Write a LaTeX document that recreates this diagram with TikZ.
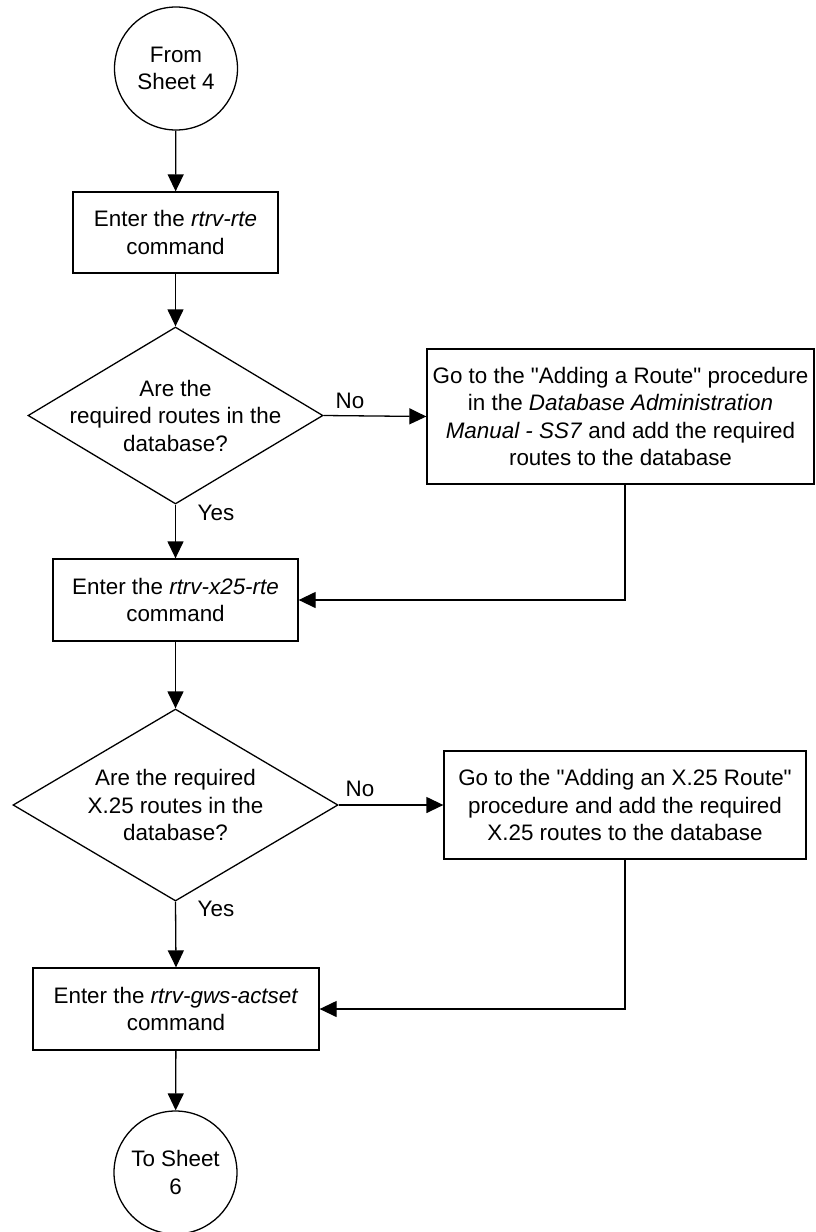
\documentclass[tikz,border=0pt]{standalone}
\usepackage{fontspec}
\setmainfont{Liberation Sans}[Ligatures=TeXOff]
\usetikzlibrary{shapes.geometric,arrows.meta}
\newcommand{\flowfont}{\fontsize{22.4}{27.5}\selectfont}
\begin{document}
\begin{tikzpicture}[x=1pt,y=-1pt,line width=1.3pt,
  stepbox/.style={draw,rectangle,align=center,inner sep=0pt,font=\flowfont},
  conn/.style={draw,circle,minimum size=123pt,inner sep=0pt,align=center,font=\flowfont},
  decision/.style={draw,diamond,inner sep=0pt},
  txt/.style={align=center,inner sep=0pt,font=\flowfont},
  arr/.style={-{Triangle[length=17pt,width=16pt]}}]
\useasboundingbox (0,0) rectangle (815,1232);

\node[conn] (c1) at (176,68.5) {From\\Sheet 4};
\node[stepbox,minimum width=205pt,minimum height=81pt] (b1) at (175.5,232.5) {Enter the \textit{rtrv-rte}\\command};
\node[decision,minimum width=295pt,minimum height=177pt] (d1) at (175.5,415.5) {};
\node[txt] (d1t) at (d1.center) {Are the\\required routes in the\\database?};
\node[stepbox,minimum width=387pt,minimum height=135pt] (b2) at (620.5,416.5) {Go to the "Adding a Route" procedure\\in the \textit{Database Administration}\\\textit{Manual - SS7} and add the required\\routes to the database};
\node[stepbox,minimum width=245pt,minimum height=82pt] (b3) at (175.5,600) {Enter the \textit{rtrv-x25-rte}\\command};
\node[decision,minimum width=325pt,minimum height=192pt] (d2) at (175.5,805) {};
\node[txt] (d2t) at (d2.center) {Are the required\\X.25 routes in the\\database?};
\node[stepbox,minimum width=362pt,minimum height=108pt] (b4) at (625,805) {Go to the "Adding an X.25 Route"\\procedure and add the required\\X.25 routes to the database};
\node[stepbox,minimum width=286pt,minimum height=82pt] (b5) at (176,1009) {Enter the \textit{rtrv-gws-actset}\\command};
\node[conn] (c2) at (175.5,1172.5) {To Sheet\\6};

\node[txt] (no1) at (350,401) {No};
\node[txt] (yes1) at (216,513) {Yes};
\node[txt] (no2) at (360,789) {No};
\node[txt] (yes2) at (216,909) {Yes};

\coordinate (k1) at (625,600);
\coordinate (k2) at (625,1009);

\draw[arr] (c1) -- (b1);
\draw[arr] (b1) -- (d1);
\draw[arr] (d1.east) -- (b2.west);
\draw[arr] (d1.south) -- (b3.north);
\draw[arr] (b2.south -| k1) -- (k1) -- (b3.east);
\draw[arr] (b3) -- (d2);
\draw[arr] (d2.east) -- (b4.west);
\draw[arr] (d2.south) -- (b5.north);
\draw[arr] (b4.south -| k2) -- (k2) -- (b5.east);
\draw[arr] (b5) -- (c2);
\end{tikzpicture}
\end{document}
